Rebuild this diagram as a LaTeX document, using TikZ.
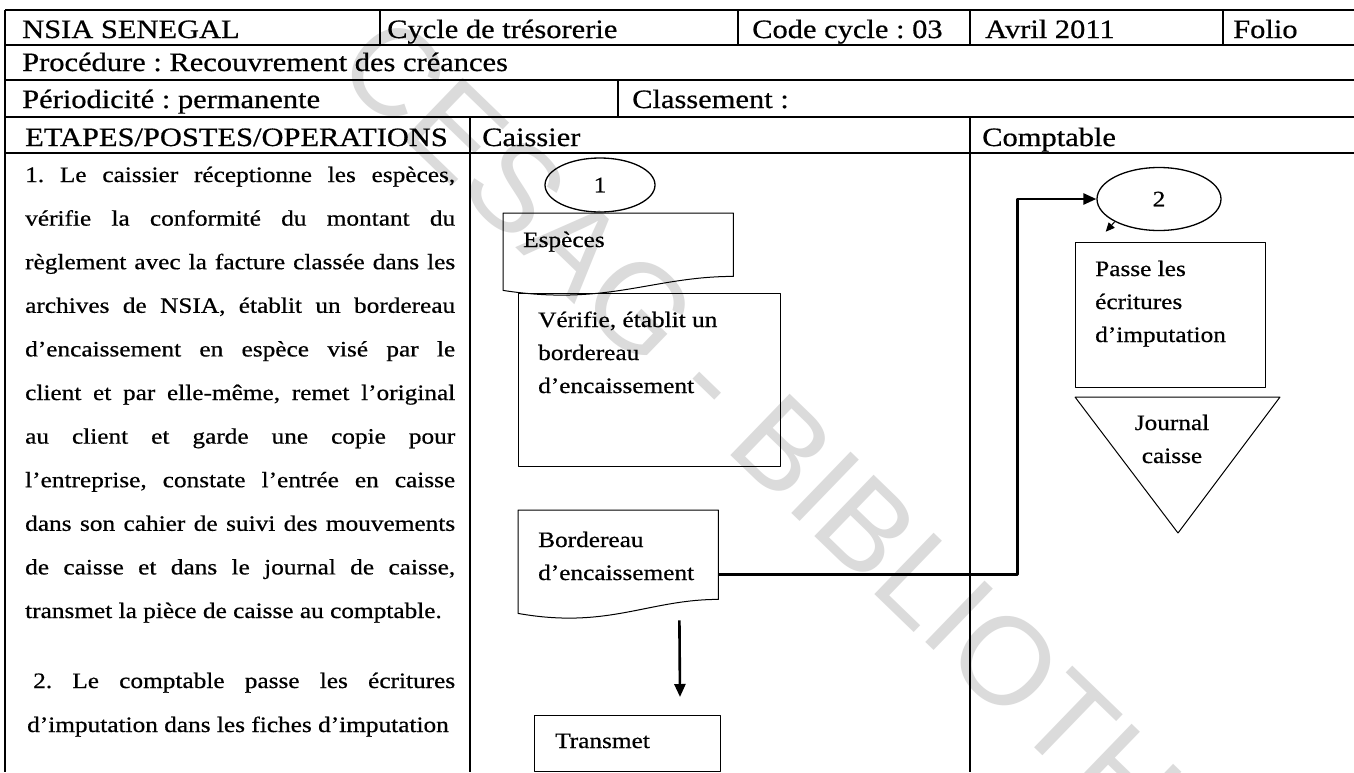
\documentclass[tikz,border=0pt]{standalone}
\usepackage{fontspec}
\setmainfont{Liberation Serif}[FakeStretch=1.15,FakeBold=0.6]
\newfontfamily\filigranefont{Liberation Sans}
\usetikzlibrary{shapes.geometric,arrows.meta,calc}
\frenchspacing

\newcommand{\ligne}[1]{\makebox[430pt][s]{#1}}
\newcommand{\docforme}[1]{%
  \draw[contour] (#1.north west) -- (#1.north east) -- ($(#1.south east)+(0,14pt)$)
    .. controls ($(#1.south east)!0.35!(#1.south west)+(0,14pt)$) and ($(#1.south east)!0.55!(#1.south west)+(0,-16pt)$) .. (#1.south west) -- cycle;}

\begin{document}
\begin{tikzpicture}[x=1pt,y=-1pt,line join=bevel,>={Triangle[length=13pt,width=11pt]}]
  \tikzstyle{entete}=[anchor=base west,inner sep=0pt,font=\fontsize{26.5}{30}\selectfont]
  \tikzstyle{corps}=[anchor=base west,inner sep=0pt,font=\fontsize{22}{26}\selectfont]
  \tikzstyle{texte}=[anchor=base west,inner sep=0pt,align=left,font=\fontsize{22}{33}\selectfont]
  \tikzstyle{boite}=[draw,line width=1pt,anchor=north west,inner sep=0pt]
  \tikzstyle{cadre}=[anchor=north west,inner sep=0pt]
  \tikzstyle{debut}=[ellipse,draw,line width=1.3pt,inner sep=0pt,font=\fontsize{22}{26}\selectfont]
  \tikzstyle{contour}=[line width=1pt]
  \tikzstyle{grille}=[line width=1.4pt]
  \tikzstyle{liaison}=[line width=2.6pt]
  \tikzstyle{filigrane}=[anchor=base west,inner sep=0pt,rotate=-44,text=black!14,font=\filigranefont\fontsize{124}{124}\selectfont]

  \useasboundingbox (0,0) rectangle (1354,772);
  \fill[white] (0,0) rectangle (1354,772);

  % filigrane
  \begin{scope}
    \clip (0,0) rectangle (1354,772);
    \node[filigrane] (filigrane) at (332,70) {CESAG - BIBLIOTHEQUE};
  \end{scope}

  % tableau
  \draw[grille] (5,10) -- (1354,10);
  \draw[grille] (5,45) -- (1354,45);
  \draw[grille] (5,80) -- (1354,80);
  \draw[grille] (5,117) -- (1354,117);
  \draw[grille] (5,153) -- (1354,153);
  \draw[grille] (5,10) -- (5,772);
  \draw[grille] (380,10) -- (380,45);
  \draw[grille] (738,10) -- (738,45);
  \draw[grille] (970,10) -- (970,45);
  \draw[grille] (1223,10) -- (1223,45);
  \draw[grille] (618,80) -- (618,117);
  \draw[grille] (470,117) -- (470,772);
  \draw[grille] (970,117) -- (970,772);

  \node[entete] (nsia) at (22,38) {NSIA SENEGAL};
  \node[entete] (cycle) at (387,38) {Cycle de trésorerie};
  \node[entete] (code) at (752,38) {Code cycle : 03};
  \node[entete] (mois) at (985,38) {Avril 2011};
  \node[entete] (folio) at (1233,38) {Folio};
  \node[entete] (procedure) at (22,71) {Procédure : Recouvrement des créances};
  \node[entete] (periodicite) at (22,108) {Périodicité : permanente};
  \node[entete] (classement) at (632,108) {Classement :};
  \node[entete] (etapes) at (25,146) {ETAPES/POSTES/OPERATIONS};
  \node[entete] (caissier) at (482,146) {Caissier};
  \node[entete] (comptable) at (982,146) {Comptable};

  % operations
  \node[corps] (l1) at (25,182) {\ligne{1. Le caissier réceptionne les espèces,}};
  \node[corps] (l2) at (25,225.6) {\ligne{vérifie la conformité du montant du}};
  \node[corps] (l3) at (25,269.2) {\ligne{règlement avec la facture classée dans les}};
  \node[corps] (l4) at (25,312.8) {\ligne{archives de NSIA, établit un bordereau}};
  \node[corps] (l5) at (25,356.4) {\ligne{d’encaissement en espèce visé par le}};
  \node[corps] (l6) at (25,400) {\ligne{client et par elle-même, remet l’original}};
  \node[corps] (l7) at (25,443.6) {\ligne{au client et garde une copie pour}};
  \node[corps] (l8) at (25,487.2) {\ligne{l’entreprise, constate l’entrée en caisse}};
  \node[corps] (l9) at (25,530.8) {\ligne{dans son cahier de suivi des mouvements}};
  \node[corps] (l10) at (25,574.4) {\ligne{de caisse et dans le journal de caisse,}};
  \node[corps] (l11) at (25,618) {transmet la pièce de caisse au comptable.};
  \node[corps] (l12) at (33,688) {\makebox[422pt][s]{2. Le comptable passe les écritures}};
  \node[corps] (l13) at (27,732) {d’imputation dans les fiches d’imputation};

  % caissier
  \node[debut, minimum width=110pt, minimum height=54pt] (etape1) at (600,185) {1};
  \node[cadre, minimum width=230pt, minimum height=77pt] (especes) at (503,213) {};
  \docforme{especes}
  \node[texte] (especestxt) at ([xshift=20pt,yshift=-34pt]especes.north west) {Espèces};
  \node[boite, minimum width=262pt, minimum height=173pt] (verifie) at (518,293) {};
  \node[texte] (verifietxt) at ([xshift=20pt,yshift=-100pt]verifie.north west) {Vérifie, établit un\\bordereau\\d’encaissement};
  \node[cadre, minimum width=200pt, minimum height=103pt] (bordereau) at (518,510) {};
  \docforme{bordereau}
  \node[texte] (bordereautxt) at ([xshift=20pt,yshift=-70pt]bordereau.north west) {Bordereau\\d’encaissement};
  \node[boite, minimum width=186pt, minimum height=56pt] (transmet) at (534,715) {};
  \node[texte] (transmettxt) at ([xshift=21pt,yshift=-33pt]transmet.north west) {Transmet};

  % comptable
  \node[debut, minimum width=124pt, minimum height=63pt] (etape2) at (1159,199) {2};
  \node[boite, minimum width=190pt, minimum height=145pt] (passe) at (1075,242) {};
  \node[texte] (passetxt) at ([xshift=20pt,yshift=-100pt]passe.north west) {Passe les\\écritures\\d’imputation};
  \draw[contour] (1075,397) -- (1280,397) -- (1178,533) -- cycle;
  \node[texte, anchor=base, align=center] (journal) at (1172,463) {Journal\\caisse};

  \draw[liaison,->] ([yshift=-12.5pt]bordereau.east) -- ++(299,0) |- (etape2.west);
  \draw[liaison,->] ([xshift=-39pt,yshift=-7pt]bordereau.south east) -- ([xshift=-41pt,yshift=18pt]transmet.north east);
  \draw[contour,->,>={Triangle[length=9pt,width=8pt]}] (etape2.south west) -- ++(-9,10);
\end{tikzpicture}
\end{document}
